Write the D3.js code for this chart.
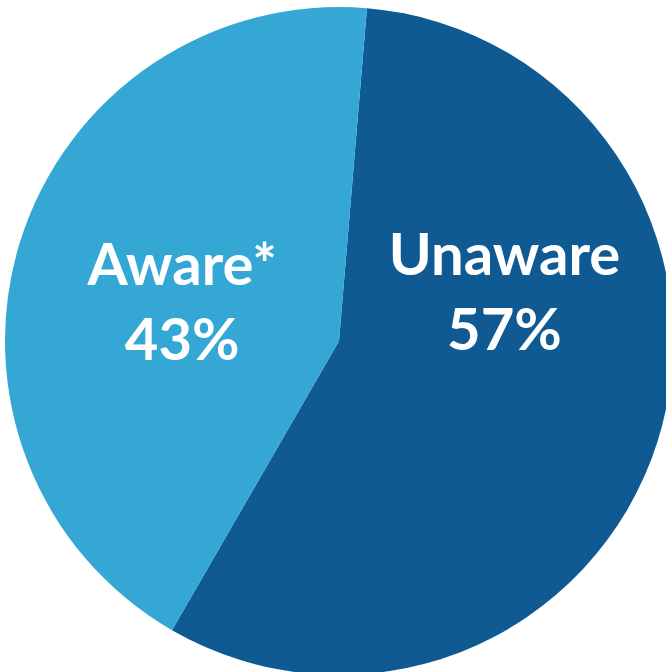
<!DOCTYPE html>
<html>
<head>
<meta charset="utf-8">
<script src="https://cdn.jsdelivr.net/npm/d3@7"></script>
<style>
html,body{margin:0;padding:0;background:#fff;}
svg{display:block;}
</style>
</head>
<body>
<svg id="chart" width="666" height="672"></svg>
<script>
const categories = ["Unaware", "Aware*"];
const values = [57, 43];
const labels = ["57%", "43%"];
const colors = ["#0F5A93", "#34A7D4"];

const W = 666, H = 672;
const cx = 339, cy = 341, R = 334;
const startDeg = 4.8;

const svg = d3.select("#chart");
const g = svg.append("g").attr("transform", `translate(${cx},${cy})`);

const pie = d3.pie().sort(null).value(d => d.v)
  .startAngle(startDeg * Math.PI / 180)
  .endAngle(startDeg * Math.PI / 180 + 2 * Math.PI);
const data = categories.map((c, i) => ({c, v: values[i], l: labels[i], col: colors[i]}));
const arcs = pie(data);
const arc = d3.arc().innerRadius(0).outerRadius(R);

g.selectAll("path").data(arcs).enter().append("path")
  .attr("d", arc)
  .attr("fill", d => d.data.col);

// label placement: angle offset and radius relative to slice mid-angle
const labelArc = [
  {dAng: -27.3, r: 168},
  {dAng: -10.4, r: 158}
];
const txt = g.selectAll("g.lab").data(arcs).enter().append("g").attr("class", "lab")
  .attr("transform", (d, i) => {
    const a = (d.startAngle + d.endAngle) / 2 + labelArc[i].dAng * Math.PI / 180;
    return `translate(${Math.sin(a) * labelArc[i].r},${-Math.cos(a) * labelArc[i].r})`;
  });
txt.append("text")
  .attr("text-anchor", "middle")
  .attr("y", -37)
  .attr("fill", "#fff")
  .style("font-family", "Lato, 'Open Sans', sans-serif")
  .style("font-weight", "bold")
  .style("font-size", "58px")
  .text(d => d.data.c);
txt.append("text")
  .attr("text-anchor", "middle")
  .attr("y", 38)
  .attr("fill", "#fff")
  .style("font-family", "Lato, 'Open Sans', sans-serif")
  .style("font-weight", "bold")
  .style("font-size", "58px")
  .text(d => d.data.l);
</script>
</body>
</html>
